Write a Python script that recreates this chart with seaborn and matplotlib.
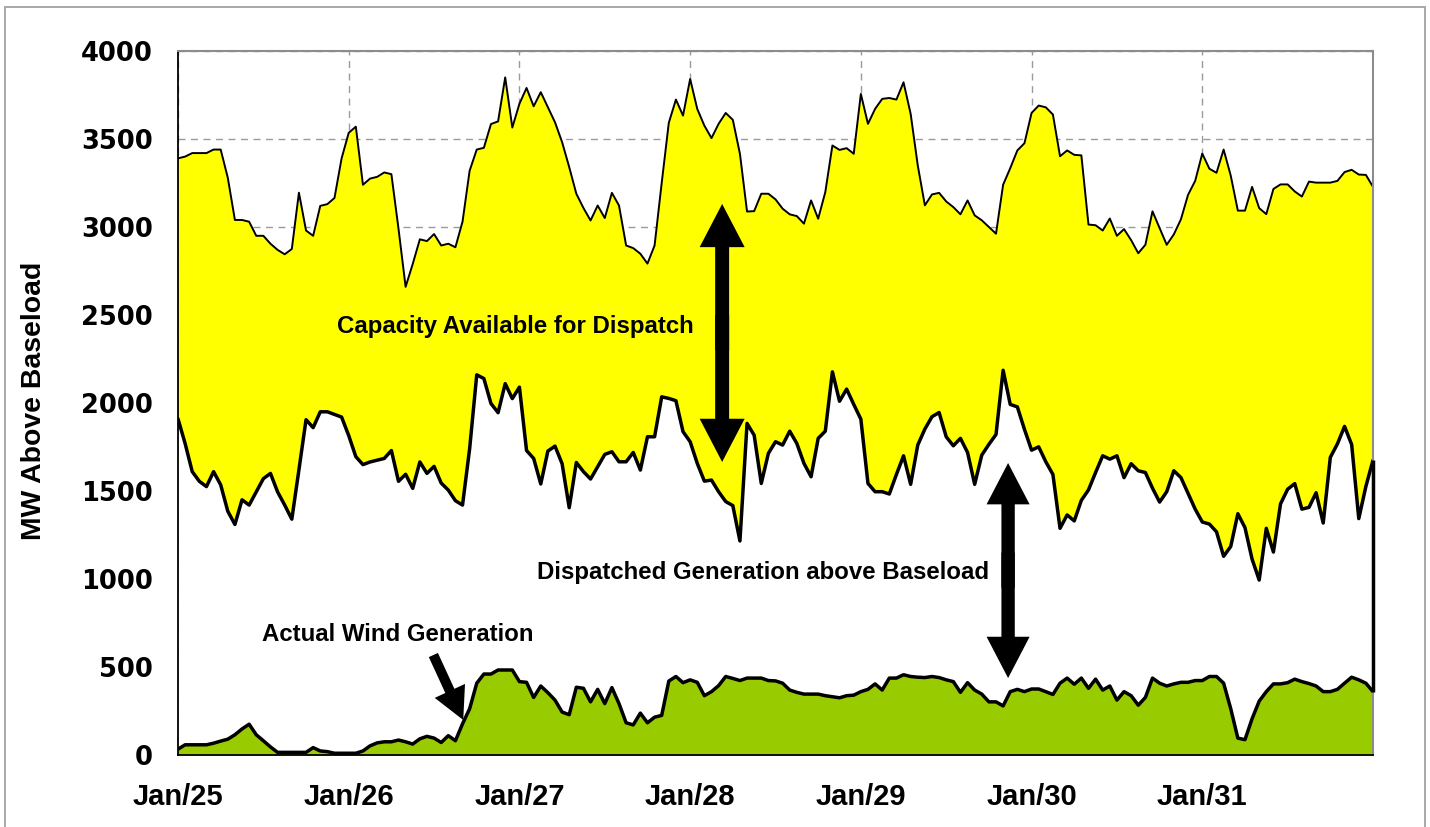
import numpy as np
import matplotlib
matplotlib.use("Agg")
import matplotlib.pyplot as plt
import matplotlib.patches as mpatches
import seaborn as sns

# --- hourly data, Jan 25 00:00 -> Feb 1 00:00 (MW above baseload) ---
day_labels = ["Jan/25", "Jan/26", "Jan/27", "Jan/28", "Jan/29", "Jan/30", "Jan/31", ""]

capacity = [
    3390, 3400, 3420, 3420, 3420, 3440, 3440, 3280, 3040, 3040, 3030, 2950, 2950, 2905, 2870,
    2845, 2875, 3195, 2980, 2950, 3120, 3130, 3165, 3390, 3535, 3570, 3240, 3275, 3285, 3310,
    3300, 2990, 2660, 2790, 2930, 2920, 2960, 2895, 2905, 2885, 3030, 3320, 3440,
    3450, 3585, 3600, 3850, 3565, 3700, 3790, 3686, 3766, 3681, 3595, 3482, 3340, 3189, 3108,
    3037, 3122, 3051, 3194, 3122, 2895, 2880, 2848, 2792, 2895, 3250, 3592, 3724, 3633, 3841,
    3671, 3576, 3505, 3586, 3648, 3609, 3416, 3088, 3090, 3189, 3189, 3157,
    3104, 3072, 3062, 3019, 3151, 3047, 3198, 3463, 3438, 3448, 3416, 3756, 3586, 3671, 3728,
    3733, 3724, 3822, 3643, 3350, 3123, 3185, 3194, 3145, 3113, 3072, 3151, 3066, 3038, 3000,
    2962, 3240, 3334, 3435, 3476, 3648, 3690, 3680, 3639, 3402, 3435, 3410,
    3407, 3014, 3010, 2980, 3048, 2950, 2988, 2925, 2851, 2899, 3089, 2994, 2899, 2958, 3044,
    3183, 3262, 3417, 3331, 3308, 3440, 3292, 3093, 3093, 3228, 3107, 3073, 3216, 3242, 3242,
    3202, 3173, 3258, 3252, 3252, 3252, 3262, 3312, 3325, 3298, 3296, 3228,
]

dispatched = [
    1910, 1770, 1610, 1555, 1525, 1610, 1535, 1385, 1310, 1450, 1420, 1495, 1570, 1600, 1495,
    1420, 1340, 1620, 1905, 1860, 1950, 1950, 1935, 1920, 1815, 1695, 1650, 1665, 1675, 1685,
    1730, 1555, 1595, 1515, 1665, 1600, 1640, 1545, 1505, 1445, 1420, 1740,
    2160, 2139, 1997, 1945, 2110, 2025, 2090, 1730, 1685, 1540, 1727, 1755, 1655, 1405, 1662,
    1610, 1568, 1638, 1708, 1723, 1666, 1666, 1719, 1619, 1808, 1808, 2035, 2026, 2013, 1837,
    1780, 1657, 1556, 1562, 1496, 1440, 1417, 1216, 1884, 1817, 1543, 1714, 1780,
    1761, 1840, 1770, 1657, 1581, 1799, 1840, 2177, 2010, 2079, 1992, 1908, 1543, 1496, 1496,
    1483, 1594, 1700, 1538, 1761, 1852, 1922, 1946, 1808, 1757, 1799, 1719, 1538, 1704, 1765,
    1821, 2186, 1992, 1978, 1850, 1732, 1751, 1666, 1594, 1288, 1364, 1330,
    1447, 1506, 1605, 1700, 1681, 1700, 1576, 1655, 1615, 1605, 1516, 1437, 1496, 1615, 1576,
    1486, 1397, 1324, 1312, 1268, 1129, 1185, 1371, 1292, 1113, 994, 1288, 1153, 1427, 1510,
    1542, 1397, 1407, 1490, 1318, 1691, 1768, 1867, 1764, 1343, 1526, 1675,
]

wind = [
    33, 58, 58, 58, 58, 67, 79, 90, 115, 148, 175, 115, 81, 46, 15, 15, 15, 15, 15, 42,
    23, 19, 10, 10, 10, 10, 23, 52, 69, 75, 75, 85, 75, 62, 92, 106, 96, 71, 110, 81,
    177, 263, 408, 460, 460, 483, 483, 483, 417, 413, 327, 392, 354, 312, 244, 229, 385, 379, 302,
    373, 292, 383, 292, 183, 171, 238, 183, 215, 225, 420, 446, 411, 427, 413, 337, 360, 394,
    446, 435, 423, 437, 437, 437, 423, 421, 408, 369, 356, 346, 346, 346, 337, 331, 325, 337,
    340, 360, 373, 404, 369, 437, 437, 456, 446, 442, 440, 446, 440, 427, 417, 356, 411, 369,
    346, 302,
    302, 279, 360, 373, 360, 375, 375, 360, 344, 408, 437, 402, 437, 379, 431, 369, 392, 312,
    360, 337, 283, 327, 437, 408, 392, 404, 413, 413, 423, 423, 446, 446, 408, 263, 96, 87,
    206, 306, 360, 404, 404, 411, 431, 417, 406, 392, 360, 360, 373, 408, 442, 427, 408, 360,
]

hours = np.arange(len(capacity))

YELLOW = "#FFFF00"
GREEN = "#99CC00"
GRID = "#9a9a9a"
FRAME = "#8c8c8c"

sns.set_style("white")
plt.rcParams["font.family"] = ["Liberation Sans", "DejaVu Sans"]
plt.rcParams.update({"text.color": "black", "xtick.color": "black",
                     "ytick.color": "black", "axes.labelcolor": "black"})

W, H = 1430, 827
fig = plt.figure(figsize=(W / 100, H / 100), dpi=100)
ax = fig.add_axes([178 / W, 1 - 755 / H, (1373 - 178) / W, (755 - 51) / H])

# stacked areas: wind (green), dispatched (white), available capacity (yellow)
ax.fill_between(hours, dispatched, capacity, color=YELLOW, lw=0, zorder=2)
ax.fill_between(hours, wind, dispatched, color="white", lw=0, zorder=2)
ax.fill_between(hours, 0, wind, color=GREEN, lw=0, zorder=2)

sns.lineplot(x=hours, y=capacity, ax=ax, color="black", lw=1.4, zorder=3)
sns.lineplot(x=hours, y=dispatched, ax=ax, color="black", lw=2.5, zorder=3)
sns.lineplot(x=hours, y=wind, ax=ax, color="black", lw=2.5, zorder=3)
ax.vlines(hours[-1], wind[-1], dispatched[-1], color="black", lw=2.5, zorder=5,
          clip_on=False)

ax.set_xlim(0, hours[-1])
ax.set_ylim(0, 4000)
ax.set_xticks(np.arange(0, hours[-1] + 1, 24))
ax.set_xticklabels(day_labels)
ax.set_yticks(np.arange(0, 4001, 500))
ax.set_xlabel("")
ax.set_ylabel("")

ax.set_axisbelow(True)
ax.grid(True, color=GRID, ls=(0, (5, 4)), lw=1.0)

for side in ["left", "bottom"]:
    ax.spines[side].set_color("black")
    ax.spines[side].set_linewidth(1.3)
for side in ["top", "right"]:
    ax.spines[side].set_color(FRAME)
    ax.spines[side].set_linewidth(1.5)
for sp in ax.spines.values():
    sp.set_zorder(4)

ax.tick_params(axis="x", direction="out", length=6, width=1, color="black", pad=14,
               labelsize=21)
ax.tick_params(axis="y", direction="out", length=7, width=1, color="black", pad=11)
for lab in ax.get_xticklabels():
    lab.set_fontweight("bold")
    lab.set_color("black")
for lab in ax.get_yticklabels():
    lab.set_fontweight("bold")
    lab.set_family("DejaVu Sans")
    lab.set_fontsize(18.5)
    lab.set_color("black")

fig.text(34 / W, 1 - 401 / H, "MW Above Baseload", rotation=90, ha="center", va="center",
         fontweight="bold", fontsize=20.4, color="black")

# annotations
txt = dict(fontweight="bold", fontsize=17.3, ha="center", va="baseline", color="black",
           zorder=6)
ax.text(47.4, 2395, "Capacity Available for Dispatch", **txt)
ax.text(82.2, 1000, "Dispatched Generation above Baseload", **txt)
ax.text(30.9, 649, "Actual Wind Generation", **txt)


def arrow(tip, tail, scale, tw=0.31):
    ax.annotate("", xy=tip, xytext=tail,
                arrowprops=dict(arrowstyle=f"simple,head_length=0.96,head_width=1.0,tail_width={tw}",
                                mutation_scale=scale, color="black", lw=0,
                                shrinkA=0, shrinkB=0), zorder=6)


# double arrow across the capacity band (two halves overlapping in the middle)
arrow((76.5, 3131), (76.5, 2300), 32.4)
arrow((76.5, 1665), (76.5, 2500), 32.4)
# double arrow across the dispatched band
arrow((116.7, 1659), (116.7, 950), 31)
arrow((116.7, 437), (116.7, 1150), 31)
# pointer to wind generation
arrow((40.1, 199), (35.9, 568), 24, tw=0.3)

# outer chart frame
fig.patches.append(mpatches.Rectangle((5 / W, -0.01), 1420 / W, 1.01 - 7 / H,
                                      transform=fig.transFigure, fill=False,
                                      edgecolor="#a8a8a8", lw=1.4))

fig.savefig("out.png", dpi=100)
